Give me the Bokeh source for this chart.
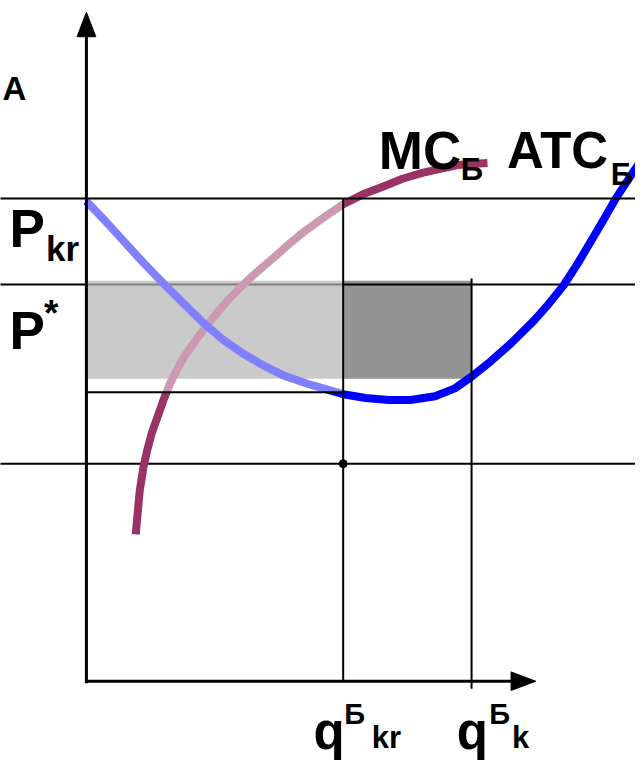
from bokeh.plotting import figure
from bokeh.models import Range1d
from bokeh.embed import file_html
from bokeh.resources import INLINE
from bokeh.core.properties import value

# ---------------- chart values (quantity q, price P; arbitrary units) ----------------
q_kr = 10.0          # q^Б_kr
q_k = 15.0           # q^Б_k
p_kr = 18.96         # P_kr
p_star = 15.58       # P*
p_atc_qkr = 11.35    # ATC level at q_kr
p_low = 8.54         # lower level (dot at q_kr)
band_top = 15.73     # shaded band (price) top
band_bottom = 11.88  # shaded band bottom
q_axis_end = 17.5
p_axis_end = 26.27

# marginal cost curve MC_Б
mc_q = [1.92, 2.00, 2.08, 2.23, 2.38, 2.54, 2.77, 3.00, 3.23, 3.50, 3.85, 4.23, 4.65,
        5.12, 5.62, 6.15, 6.73, 7.31, 7.92, 8.58, 9.27, 10.00, 10.77, 11.54, 12.31,
        13.08, 13.77, 14.46, 15.04, 15.62]
mc_p = [5.77, 6.65, 7.50, 8.46, 9.12, 9.73, 10.38, 11.04, 11.62, 12.19, 12.81, 13.35, 13.92,
        14.50, 15.08, 15.62, 16.15, 16.65, 17.19, 17.73, 18.23, 18.73, 19.12, 19.42, 19.73,
        19.96, 20.12, 20.27, 20.31, 20.35]

# average total cost curve ATC_Б
atc_q = [0.00, 0.69, 1.46, 2.23, 3.00, 3.85, 4.54, 5.31, 6.08, 6.85, 7.69, 8.58, 9.35,
         10.00, 10.88, 11.77, 12.62, 13.58, 14.35, 15.00, 15.77, 16.54, 17.42, 18.00,
         18.58, 19.12, 19.62, 20.12, 20.62, 21.27, 21.58]
atc_p = [18.85, 18.12, 17.27, 16.42, 15.62, 14.77, 14.08, 13.42, 12.88, 12.42, 12.00, 11.69, 11.46,
         11.27, 11.12, 11.04, 11.04, 11.19, 11.50, 11.96, 12.58, 13.27, 14.15, 14.81,
         15.54, 16.38, 17.23, 18.08, 18.96, 19.96, 20.42]

# ---------------- figure ----------------
UNIT = 26.0            # reference pixels per unit
REF_W, REF_H = 643, 778
W, H = 635, 762
SF = H / REF_H         # overall size factor
X0, Y0 = 87, 695       # origin position in the reference frame

x_start = -X0 / UNIT
x_end = (REF_W - X0) / UNIT
y_start = (Y0 - REF_H) / UNIT
y_end = Y0 / UNIT

p = figure(width=W, height=H,
           x_range=Range1d(x_start, x_end), y_range=Range1d(y_start, y_end),
           x_axis_type=None, y_axis_type=None,
           output_backend="svg", toolbar_location=None, min_border=0)
p.grid.visible = False
p.outline_line_color = None
p.background_fill_color = "white"
p.border_fill_color = "white"

# shaded band
p.quad(left=[0], right=[q_k], bottom=[band_bottom], top=[band_top],
       fill_color="#949494", line_color=None)

# lines under the white veil
p.segment(x0=[x_start - 1, x_start - 1], y0=[p_star, p_low],
          x1=[x_end + 1, x_end + 1], y1=[p_star, p_low],
          line_color="black", line_width=2)

# curves
p.line(mc_q, mc_p, line_color="#993366", line_width=8, line_join="round", line_cap="butt")
p.line(atc_q, atc_p, line_color="#0000ff", line_width=8, line_join="round", line_cap="butt")

# white semi-transparent veil
p.quad(left=[0], right=[q_kr], bottom=[p_atc_qkr], top=[p_kr],
       fill_color="white", fill_alpha=0.5, line_color=None)

# lines above the veil
p.segment(x0=[x_start - 1, 0, q_kr, q_k],
          y0=[p_kr, p_atc_qkr, p_kr, band_top + 0.08],
          x1=[x_end + 1, q_kr, q_kr, q_k],
          y1=[p_kr, p_atc_qkr, 0, -0.3],
          line_color="black", line_width=2)

# axes
p.segment(x0=[0, 0], y0=[-0.08, 0], x1=[0, q_axis_end - 0.7], y1=[p_axis_end - 0.7, 0],
          line_color="black", line_width=3)
ah = 25 / UNIT
aw = 9.5 / UNIT
p.patch([-aw, aw, 0], [p_axis_end - ah, p_axis_end - ah, p_axis_end],
        fill_color="black", line_color="black")
p.patch([q_axis_end - ah, q_axis_end - ah, q_axis_end], [-aw, aw, 0],
        fill_color="black", line_color="black")

# dot
p.scatter(x=[q_kr], y=[p_low], size=8, color="black")

# ---------------- labels ----------------
FONT = value("Liberation Sans")

def q_of(X):
    return (X - X0) / UNIT

def p_of(Y):
    return (Y0 - Y) / UNIT

def label(txt, X, Y, size, align="left"):
    p.text(x=[q_of(X)], y=[p_of(Y)], text=[txt], text_font=FONT, text_font_style="bold",
           text_font_size=f"{round(size * SF)}px", text_color="black",
           text_align=align, text_baseline="alphabetic")

label("A", 2, 90, 34)
label("P", 9, 233, 54)
label("kr", 46, 253, 36)
label("P", 9, 337, 54)
label("*", 44, 320, 38)
label("MC", 383, 153, 54)
label("Б", 466, 173, 32)
label("ATC", 513, 153, 52)
label("Б", 618, 178, 32)
label("q", 317, 746, 52)
label("Б", 348, 728, 30)
label("kr", 376, 752, 32)
label("q", 462, 746, 52)
label("Б", 495, 728, 30)
label("k", 518, 752, 32)

open("out.html", "w").write(file_html(p, INLINE))
